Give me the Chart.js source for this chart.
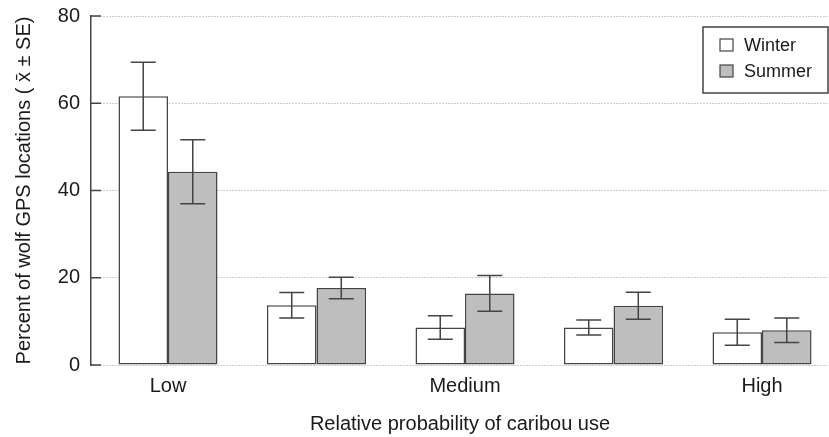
<!DOCTYPE html>
<html>
<head>
<meta charset="utf-8">
<script src="https://cdn.jsdelivr.net/npm/chart.js@4/dist/chart.umd.min.js"></script>
<style>
  html, body { margin: 0; padding: 0; background: #fff; overflow: hidden; }
  #wrap { width: 829px; height: 437px; }
</style>
</head>
<body>
<div id="wrap"><canvas id="c" width="829" height="437"></canvas></div>
<script>
const categories = ['Low', '', 'Medium', '', 'High'];
const seriesNames = ['Winter', 'Summer'];
const winter = [61.6, 13.7, 8.6, 8.6, 7.5];
const winterSE = [7.8, 2.9, 2.7, 1.7, 3.0];
const summer = [44.3, 17.65, 16.4, 13.6, 7.95];
const summerSE = [7.35, 2.45, 4.1, 3.1, 2.8];
const yTicks = [0, 20, 40, 60, 80];

const FONT = '"Liberation Sans", Arial, Helvetica, sans-serif';
const INK = '#444';
const TEXT = '#1a1a1a';

const toPoints = arr => arr.map((v, i) => ({ x: i, y: v }));

const errorBars = {
  id: 'errorBars',
  afterDatasetsDraw(chart) {
    const ctx = chart.ctx;
    const y = chart.scales.y;
    const ses = [winterSE, summerSE];
    ctx.save();
    ctx.strokeStyle = INK;
    ctx.lineWidth = 1.5;
    chart.data.datasets.forEach((ds, di) => {
      const meta = chart.getDatasetMeta(di);
      meta.data.forEach((bar, i) => {
        const v = ds.data[i].y, se = ses[di][i];
        const x = bar.x;
        const yt = y.getPixelForValue(v + se);
        const yb = y.getPixelForValue(v - se);
        const cap = 12.5;
        ctx.beginPath();
        ctx.moveTo(x, yt); ctx.lineTo(x, yb);
        ctx.moveTo(x - cap, yt); ctx.lineTo(x + cap, yt);
        ctx.moveTo(x - cap, yb); ctx.lineTo(x + cap, yb);
        ctx.stroke();
      });
    });
    ctx.restore();
  }
};

const innerTicks = {
  id: 'innerTicks',
  afterDraw(chart) {
    const ctx = chart.ctx;
    const y = chart.scales.y;
    const left = chart.chartArea.left;
    ctx.save();
    ctx.strokeStyle = INK;
    ctx.lineWidth = 1.5;
    yTicks.forEach(t => {
      const py = y.getPixelForValue(t);
      ctx.beginPath();
      ctx.moveTo(left, py); ctx.lineTo(left + 10, py);
      ctx.stroke();
    });
    ctx.restore();
  }
};

const boxLegend = {
  id: 'boxLegend',
  afterDraw(chart) {
    const ctx = chart.ctx;
    const ca = chart.chartArea;
    const bx = ca.right - 126, by = ca.top + 11, bw = 125, bh = 66;
    ctx.save();
    ctx.fillStyle = '#fff';
    ctx.fillRect(bx, by, bw, bh);
    ctx.strokeStyle = INK;
    ctx.lineWidth = 1.5;
    ctx.strokeRect(bx, by, bw, bh);
    ctx.font = '18px ' + FONT;
    ctx.textBaseline = 'middle';
    ctx.textAlign = 'left';
    chart.data.datasets.forEach((ds, i) => {
      const cy = by + 18 + i * 26;
      ctx.fillStyle = ds.backgroundColor;
      ctx.fillRect(bx + 17, cy - 6, 13, 12);
      ctx.strokeStyle = INK;
      ctx.lineWidth = 1.2;
      ctx.strokeRect(bx + 17, cy - 6, 13, 12);
      ctx.fillStyle = TEXT;
      ctx.fillText(ds.label, bx + 41, cy + 1);
    });
    ctx.restore();
  }
};

new Chart(document.getElementById('c'), {
  type: 'bar',
  data: {
    datasets: [
      { label: seriesNames[0], data: toPoints(winter), backgroundColor: '#ffffff',
        borderColor: INK, borderWidth: 1.5, borderSkipped: false },
      { label: seriesNames[1], data: toPoints(summer), backgroundColor: '#bebebe',
        borderColor: INK, borderWidth: 1.5, borderSkipped: false }
    ]
  },
  plugins: [errorBars, innerTicks, boxLegend],
  options: {
    responsive: false,
    animation: false,
    devicePixelRatio: 1,
    layout: { padding: { top: 16, right: 0, bottom: 0, left: 0 } },
    categoryPercentage: 0.667,
    barPercentage: 1.0,
    plugins: { legend: { display: false }, tooltip: { enabled: false } },
    scales: {
      x: {
        type: 'linear',
        offset: false,
        min: -0.5185,
        max: 4.451,
        afterBuildTicks: s => { s.ticks = categories.map((c, i) => ({ value: i })).filter(t => categories[t.value] !== ''); },
        afterFit: s => { s.height = 72; s.paddingLeft = 0; s.paddingRight = 0; },
        grid: { display: false, drawTicks: false },
        border: { display: false },
        ticks: {
          padding: 9,
          color: TEXT,
          font: { family: FONT, size: 20 },
          maxRotation: 0,
          autoSkip: false,
          callback: v => categories[Math.round(v)] || ''
        },
        title: {
          display: true,
          text: 'Relative probability of caribou use',
          color: TEXT,
          font: { family: FONT, size: 20 },
          padding: { top: 0, bottom: 1 }
        }
      },
      y: {
        min: 0,
        max: 80,
        afterBuildTicks: s => { s.ticks = yTicks.map(v => ({ value: v })); },
        afterFit: s => { s.width = 91; s.paddingTop = 0; s.paddingBottom = 0; },
        grid: { color: '#999', lineWidth: 1, drawTicks: false },
        border: { display: true, color: INK, width: 1.5, dash: [1, 2] },
        ticks: {
          padding: 11,
          color: TEXT,
          font: { family: FONT, size: 20 }
        },
        title: {
          display: true,
          text: 'Percent of wolf GPS locations ( x\u0304 \u00b1 SE)',
          color: TEXT,
          font: { family: FONT, size: 20 },
          padding: { top: 12, bottom: 0 }
        }
      }
    }
  }
});
</script>
</body>
</html>
